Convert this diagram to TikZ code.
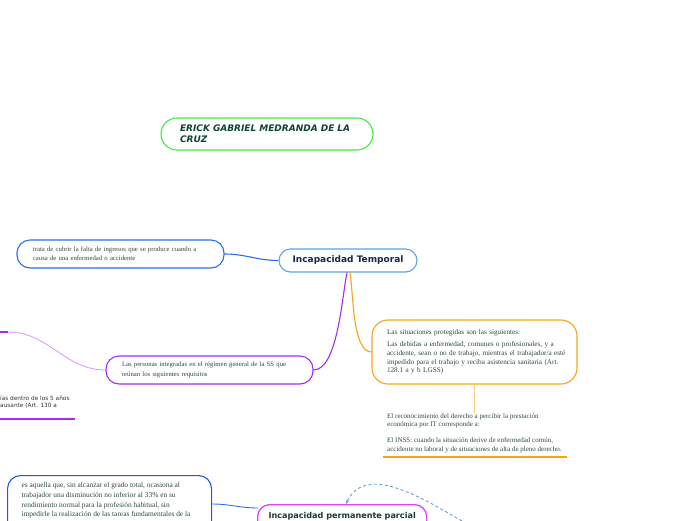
\documentclass[tikz,border=0pt]{standalone}
\usepackage{fontspec}
\setmainfont{Liberation Serif}
\newfontfamily\dejavu{DejaVu Sans}
\usetikzlibrary{arrows.meta,calc}
\definecolor{cgreen}{HTML}{44E844}
\definecolor{cgreentxt}{HTML}{0D4530}
\definecolor{citb}{HTML}{5AA5E0}
\definecolor{cittxt}{HTML}{16264A}
\definecolor{cblue}{HTML}{2A6EF0}
\definecolor{cblue2}{HTML}{2255EE}
\definecolor{ctxt}{HTML}{2D4B3C}
\definecolor{corange}{HTML}{F5A31F}
\definecolor{corangel}{HTML}{F8CC88}
\definecolor{cpurple}{HTML}{A42CF0}
\definecolor{cpurplel}{HTML}{D9A0F5}
\definecolor{cmag}{HTML}{DD44F0}
\definecolor{cdash}{HTML}{5AA0EE}
\definecolor{cmagtxt}{HTML}{183C2C}
\definecolor{cgray}{HTML}{333333}
\tikzset{
  mmbox/.style={draw, rounded corners=13pt, line width=1.1pt, fill=white, align=left, inner ysep=0pt},
  smalltxt/.style={font=\fontsize{6.7}{9}\selectfont, text=ctxt},
  conn/.style={line width=1.1pt},
}
\begin{document}
\begin{tikzpicture}[x=1pt,y=-1pt]
\useasboundingbox (0,0) rectangle (696,520);

% green title
\node[mmbox, draw=cgreen, rounded corners=16pt, minimum height=32pt, text width=174pt, inner xsep=19pt,
      font=\dejavu\bfseries\itshape\fontsize{9}{11}\selectfont, text=cgreentxt] (gn) at (267,134)
      {ERICK GABRIEL MEDRANDA DE LA\\CRUZ};

% Incapacidad Temporal
\node[mmbox, draw=citb, rounded corners=11.5pt, minimum width=138pt, minimum height=23pt, align=center,
      font=\dejavu\bfseries\fontsize{9}{11}\selectfont, text=cittxt] (it) at (348,260.5) {Incapacidad Temporal};

% blue box
\node[mmbox, draw=cblue, smalltxt, minimum height=28pt, text width=175pt, inner xsep=16pt] (b1) at (120.5,254)
      {trata de cubrir la falta de ingresos que se produce cuando a\\causa de una enfermedad o accidente};

% orange box
\node[mmbox, draw=corange, rounded corners=16pt, font=\fontsize{7.2}{8.6}\selectfont, text=ctxt,
      minimum height=64pt, text width=175pt, inner xsep=15pt] (ob) at (474.5,352)
      {\begin{tabular}{@{}l@{}}
       Las situaciones protegidas son las siguientes:\\[3.7pt]
       Las debidas a enfermedad, comunes o profesionales, y a\\
       accidente, sean o no de trabajo, mientras el trabajador/a esté\\
       impedido para el trabajo y reciba asistencia sanitaria (Art.\\
       128.1 a y b LGSS)
       \end{tabular}};

% text below orange box
\node[anchor=north west, inner sep=0pt, align=left, font=\fontsize{7}{8.3}\selectfont, text=ctxt] (reco) at (387,413)
      {El reconocimiento del derecho a percibir la prestación\\
       económica por IT corresponde a:\\[8.3pt]
       El INSS: cuando la situación derive de enfermedad común,\\
       accidente no laboral y de situaciones de alta de pleno derecho.};
\coordinate (u1) at (383,457);
\coordinate (u2) at (567,457);
\draw[corange, line width=1.8pt] (u1) -- (u2);
\draw[corangel, line width=0.9pt] (ob.south) -- (ob.south |- reco.north);

% purple box
\node[mmbox, draw=cpurple, smalltxt, minimum height=28pt, text width=175pt, inner xsep=16pt,
      font=\fontsize{6.7}{9.3}\selectfont] (pb) at (209.5,370)
      {Las personas integradas en el régimen general de la SS que\\reúnan los siguientes requisitos};

% left off-screen pieces
\coordinate (lp0) at (0,332);
\coordinate (lp) at (8,332);
\draw[cpurple, line width=1.6pt] (lp0) -- (lp);
\draw[cpurplel, line width=0.9pt] (pb.west) to[out=180,in=0] (lp);
\node[anchor=north west, inner sep=0pt, align=left, font=\dejavu\fontsize{5.8}{6.8}\selectfont, text=cgray] (lf) at (0,396)
      {ías dentro de los 5 años\\ausante (Art. 130 a};
\coordinate (v1) at (0,419);
\coordinate (v2) at (75,419);
\draw[cpurple, line width=1.6pt] (v1) -- (v2);

% connectors from Incapacidad Temporal
\draw[cblue, conn] (b1.east) to[out=0,in=180] (it.west);
\draw[corange, conn] ([xshift=2pt]it.south) to[out=-80,in=180,looseness=0.6] (ob.west);
\draw[cpurple, conn] ([xshift=-1pt]it.south) to[out=-102,in=0,looseness=0.6] (pb.east);

% bottom blue box
\node[mmbox, draw=cblue2, anchor=north west, inner xsep=14pt, inner ysep=7pt, font=\fontsize{7.4}{9.7}\selectfont, text=ctxt] (bb) at (7,475)
      {\parbox[t][70pt][t]{176pt}{\raggedright
       es aquella que, sin alcanzar el grado total, ocasiona al\\
       trabajador una disminución no inferior al 33\% en su\\
       rendimiento normal para la profesión habitual, sin\\
       impedirle la realización de las tareas fundamentales de la}};

% Incapacidad permanente parcial
\node[mmbox, draw=cmag, rounded corners=12pt, line width=1.3pt, anchor=north west, inner xsep=9pt, inner ysep=8pt,
      font=\dejavu\bfseries\fontsize{8.1}{10}\selectfont, text=cmagtxt] (mp) at (257,504)
      {\parbox[t][30pt][t]{151pt}{\centering Incapacidad permanente parcial}};

\draw[cblue, line width=0.9pt] ($(bb.north east)+(0,29)$) to[out=0,in=180] ($(mp.north west)+(1,4)$);

% dashed arrow
\coordinate (ds) at (462,521);
\draw[cdash, line width=0.9pt, dash pattern=on 3pt off 2.5pt, -{Stealth[length=4pt,width=3.5pt]}]
      (ds) to[out=150,in=65] ($(mp.north west)+(89,0)$);
\end{tikzpicture}
\end{document}
